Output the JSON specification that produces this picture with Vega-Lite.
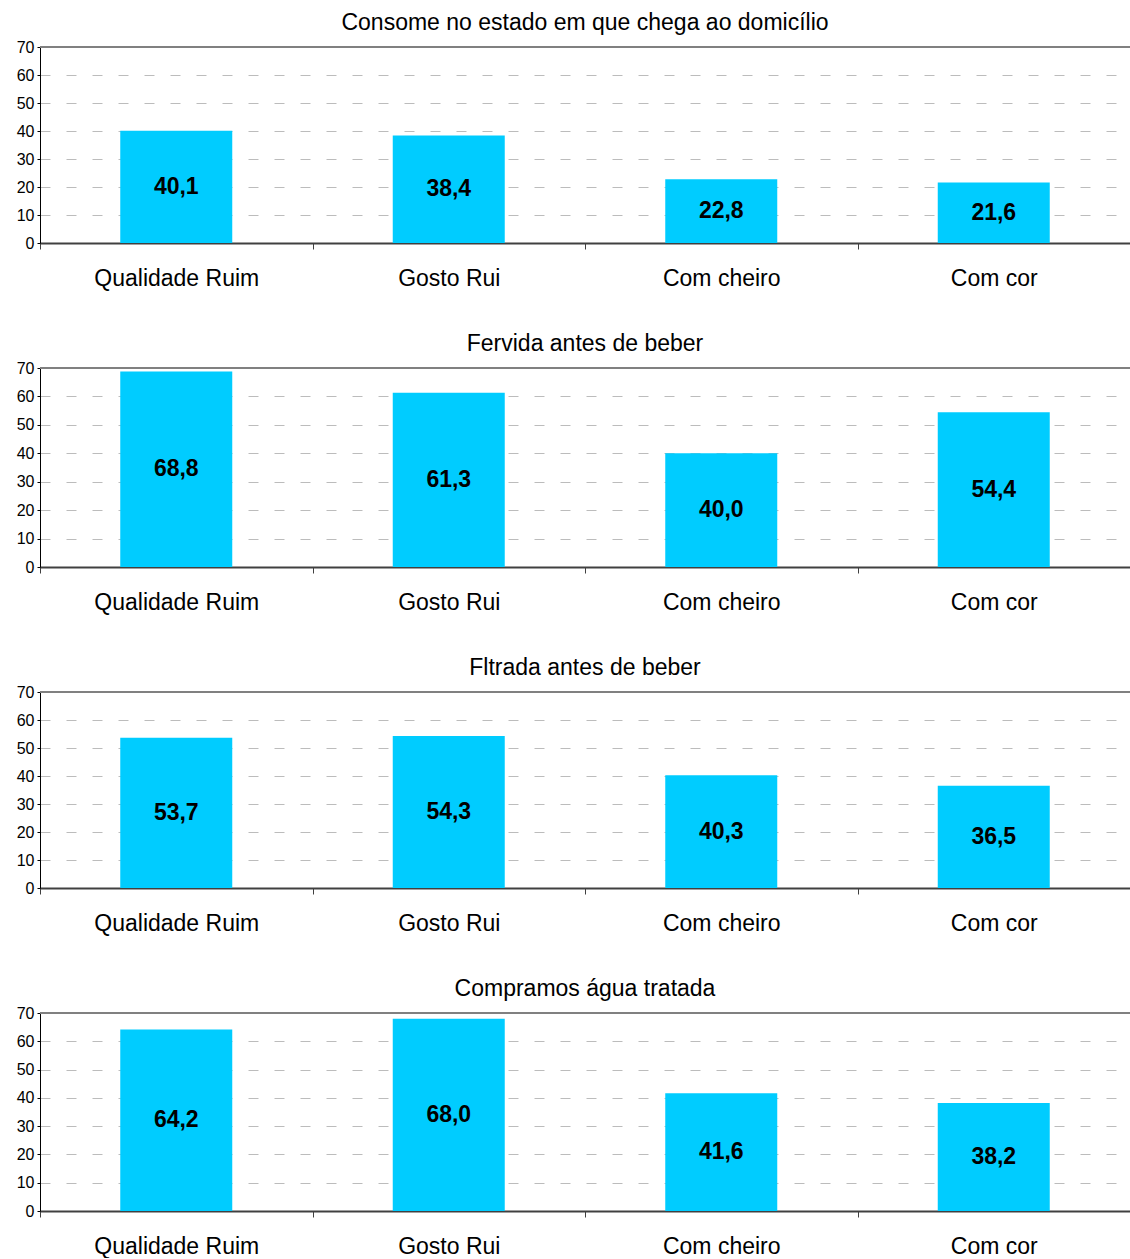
{
  "$schema": "https://vega.github.io/schema/vega-lite/v6.json",
  "padding": {"left": 16, "top": 12, "right": 0, "bottom": 0},
  "background": "white",
  "data": {"values": [
    {"painel": "Consome no estado em que chega ao domicílio", "categoria": "Qualidade Ruim", "valor": 40.1},
    {"painel": "Consome no estado em que chega ao domicílio", "categoria": "Gosto Rui", "valor": 38.4},
    {"painel": "Consome no estado em que chega ao domicílio", "categoria": "Com cheiro", "valor": 22.8},
    {"painel": "Consome no estado em que chega ao domicílio", "categoria": "Com cor", "valor": 21.6},
    {"painel": "Fervida antes de beber", "categoria": "Qualidade Ruim", "valor": 68.8},
    {"painel": "Fervida antes de beber", "categoria": "Gosto Rui", "valor": 61.3},
    {"painel": "Fervida antes de beber", "categoria": "Com cheiro", "valor": 40.0},
    {"painel": "Fervida antes de beber", "categoria": "Com cor", "valor": 54.4},
    {"painel": "Fltrada antes de beber", "categoria": "Qualidade Ruim", "valor": 53.7},
    {"painel": "Fltrada antes de beber", "categoria": "Gosto Rui", "valor": 54.3},
    {"painel": "Fltrada antes de beber", "categoria": "Com cheiro", "valor": 40.3},
    {"painel": "Fltrada antes de beber", "categoria": "Com cor", "valor": 36.5},
    {"painel": "Compramos água tratada", "categoria": "Qualidade Ruim", "valor": 64.2},
    {"painel": "Compramos água tratada", "categoria": "Gosto Rui", "valor": 68.0},
    {"painel": "Compramos água tratada", "categoria": "Com cheiro", "valor": 41.6},
    {"painel": "Compramos água tratada", "categoria": "Com cor", "valor": 38.2}
  ]},
  "transform": [{"calculate": "datum.valor / 2", "as": "meio"}],
  "spacing": 43,
  "vconcat": [
    {
      "title": {"text": "Consome no estado em que chega ao domicílio"},
      "width": 1090, "height": 196,
      "transform": [{"filter": "datum.painel === 'Consome no estado em que chega ao domicílio'"}],
      "encoding": {
        "x": {"field": "categoria", "type": "nominal", "sort": ["Qualidade Ruim", "Gosto Rui", "Com cheiro", "Com cor"], "scale": {"paddingInner": 0, "paddingOuter": 0}, "title": null},
        "y": {"type": "quantitative", "scale": {"domain": [0, 70], "nice": false}, "axis": {"values": [0, 10, 20, 30, 40, 50, 60, 70]}, "title": null}
      },
      "layer": [
        {"mark": {"type": "rule", "color": "#808080", "strokeWidth": 2}, "encoding": {"x": null, "y": {"datum": 70, "type": "quantitative"}}},
        {"mark": {"type": "bar", "color": "#00CCFF", "size": 112}, "encoding": {"y": {"field": "valor", "type": "quantitative"}}},
        {"mark": {"type": "text", "fontWeight": "bold", "fontSize": 23, "font": "Liberation Sans", "color": "black"}, "encoding": {"y": {"field": "meio", "type": "quantitative"}, "text": {"field": "valor", "type": "quantitative", "format": ".1f"}}}
      ]
    },
    {
      "title": {"text": "Fervida antes de beber"},
      "width": 1090, "height": 199,
      "transform": [{"filter": "datum.painel === 'Fervida antes de beber'"}],
      "encoding": {
        "x": {"field": "categoria", "type": "nominal", "sort": ["Qualidade Ruim", "Gosto Rui", "Com cheiro", "Com cor"], "scale": {"paddingInner": 0, "paddingOuter": 0}, "title": null},
        "y": {"type": "quantitative", "scale": {"domain": [0, 70], "nice": false}, "axis": {"values": [0, 10, 20, 30, 40, 50, 60, 70]}, "title": null}
      },
      "layer": [
        {"mark": {"type": "rule", "color": "#808080", "strokeWidth": 2}, "encoding": {"x": null, "y": {"datum": 70, "type": "quantitative"}}},
        {"mark": {"type": "bar", "color": "#00CCFF", "size": 112}, "encoding": {"y": {"field": "valor", "type": "quantitative"}}},
        {"mark": {"type": "text", "fontWeight": "bold", "fontSize": 23, "font": "Liberation Sans", "color": "black"}, "encoding": {"y": {"field": "meio", "type": "quantitative"}, "text": {"field": "valor", "type": "quantitative", "format": ".1f"}}}
      ]
    },
    {
      "title": {"text": "Fltrada antes de beber"},
      "width": 1090, "height": 196,
      "transform": [{"filter": "datum.painel === 'Fltrada antes de beber'"}],
      "encoding": {
        "x": {"field": "categoria", "type": "nominal", "sort": ["Qualidade Ruim", "Gosto Rui", "Com cheiro", "Com cor"], "scale": {"paddingInner": 0, "paddingOuter": 0}, "title": null},
        "y": {"type": "quantitative", "scale": {"domain": [0, 70], "nice": false}, "axis": {"values": [0, 10, 20, 30, 40, 50, 60, 70]}, "title": null}
      },
      "layer": [
        {"mark": {"type": "rule", "color": "#808080", "strokeWidth": 2}, "encoding": {"x": null, "y": {"datum": 70, "type": "quantitative"}}},
        {"mark": {"type": "bar", "color": "#00CCFF", "size": 112}, "encoding": {"y": {"field": "valor", "type": "quantitative"}}},
        {"mark": {"type": "text", "fontWeight": "bold", "fontSize": 23, "font": "Liberation Sans", "color": "black"}, "encoding": {"y": {"field": "meio", "type": "quantitative"}, "text": {"field": "valor", "type": "quantitative", "format": ".1f"}}}
      ]
    },
    {
      "title": {"text": "Compramos água tratada"},
      "width": 1090, "height": 198,
      "transform": [{"filter": "datum.painel === 'Compramos água tratada'"}],
      "encoding": {
        "x": {"field": "categoria", "type": "nominal", "sort": ["Qualidade Ruim", "Gosto Rui", "Com cheiro", "Com cor"], "scale": {"paddingInner": 0, "paddingOuter": 0}, "title": null},
        "y": {"type": "quantitative", "scale": {"domain": [0, 70], "nice": false}, "axis": {"values": [0, 10, 20, 30, 40, 50, 60, 70]}, "title": null}
      },
      "layer": [
        {"mark": {"type": "rule", "color": "#808080", "strokeWidth": 2}, "encoding": {"x": null, "y": {"datum": 70, "type": "quantitative"}}},
        {"mark": {"type": "bar", "color": "#00CCFF", "size": 112}, "encoding": {"y": {"field": "valor", "type": "quantitative"}}},
        {"mark": {"type": "text", "fontWeight": "bold", "fontSize": 23, "font": "Liberation Sans", "color": "black"}, "encoding": {"y": {"field": "meio", "type": "quantitative"}, "text": {"field": "valor", "type": "quantitative", "format": ".1f"}}}
      ]
    }
  ],
  "config": {
    "locale": {"number": {"decimal": ",", "thousands": ".", "grouping": [3], "currency": ["R$", ""]}},
    "font": "Liberation Sans",
    "view": {"stroke": null},
    "title": {"fontSize": 23, "fontWeight": "normal", "font": "Liberation Sans", "color": "black", "anchor": "middle", "offset": 4},
    "axisX": {
      "tickBand": "extent", "labelAngle": 0, "labelFontSize": 23, "labelColor": "black", "labelPadding": 18,
      "domainColor": "#404040", "domainWidth": 2, "tickColor": "#404040", "tickSize": 6, "grid": false
    },
    "axisY": {
      "labelFontSize": 16, "labelColor": "black", "labelPadding": 3, "tickSize": 3, "tickColor": "black",
      "domainColor": "black", "grid": true, "gridColor": "#bcbcbc", "gridDash": [10, 16], "gridWidth": 1
    }
  }
}
